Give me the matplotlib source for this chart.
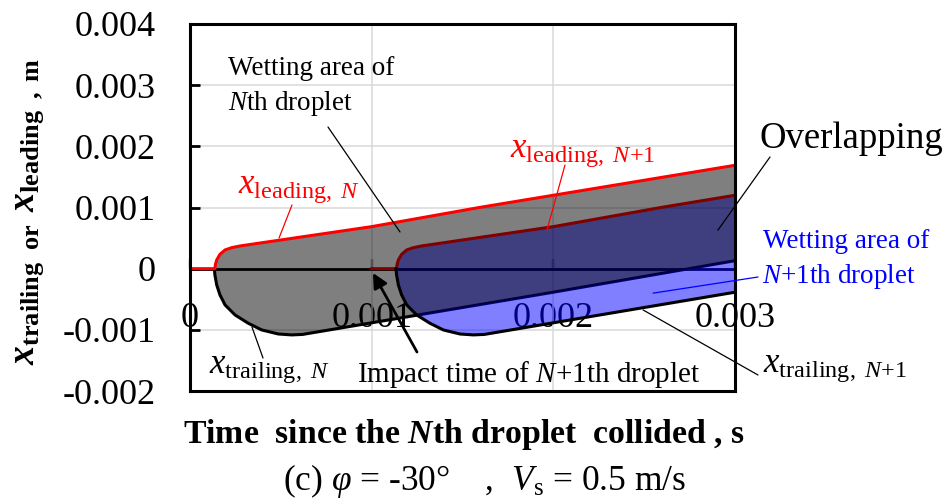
import numpy as np
import matplotlib
matplotlib.use("Agg")
import matplotlib.pyplot as plt

plt.rcParams.update({
    "font.family": "Liberation Serif",
    "mathtext.fontset": "custom",
    "mathtext.rm": "Liberation Serif",
    "mathtext.it": "Liberation Serif:italic",
    "mathtext.bf": "Liberation Serif:bold",
})
try:
    plt.rcParams["mathtext.bfit"] = "Liberation Serif:italic:bold"
except KeyError:
    pass

# ---------------- data (time in ms, position in mm) ----------------
t_lead_N = [0.0, 0.137, 0.140, 0.147, 0.165, 0.193, 0.229, 0.275, 0.688, 1.0, 1.6, 3.0]
x_lead_N = [0.0, 0.0, 0.07, 0.142, 0.235, 0.306, 0.343, 0.371, 0.551, 0.687, 1.004, 1.69]
t_trail_N = [0.134, 0.137, 0.147, 0.165, 0.193, 0.248, 0.321, 0.395, 0.486, 0.560, 0.62, 1.2, 2.0, 3.0]
x_trail_N = [0.0, -0.10, -0.266, -0.43, -0.593, -0.757, -0.893, -1.002, -1.068, -1.083, -1.075, -0.785, -0.385, 0.13]
t_lead_N1 = [1.0, 1.137, 1.140, 1.147, 1.165, 1.193, 1.229, 1.275, 1.688, 2.0, 2.6, 3.0]
x_lead_N1 = [0.0, 0.0, 0.07, 0.142, 0.235, 0.306, 0.343, 0.371, 0.551, 0.687, 1.004, 1.20]
t_trail_N1 = [1.134, 1.137, 1.147, 1.165, 1.193, 1.248, 1.321, 1.395, 1.486, 1.560, 1.62, 2.2, 3.0]
x_trail_N1 = [0.0, -0.10, -0.266, -0.43, -0.593, -0.757, -0.893, -1.002, -1.068, -1.083, -1.075, -0.785, -0.385]

x_ticks = [0.0, 0.001, 0.002, 0.003]
x_tick_labels = ["0", "0.001", "0.002", "0.003"]
y_ticks = [-0.002, -0.001, 0.0, 0.001, 0.002, 0.003, 0.004]
y_tick_labels = ["-0.002", "-0.001", "0", "0.001", "0.002", "0.003", "0.004"]

SCALE = 1e-3  # ms -> s, mm -> m
tLN, xLN = np.array(t_lead_N) * SCALE, np.array(x_lead_N) * SCALE
tTN, xTN = np.array(t_trail_N) * SCALE, np.array(x_trail_N) * SCALE
tLN1, xLN1 = np.array(t_lead_N1) * SCALE, np.array(x_lead_N1) * SCALE
tTN1, xTN1 = np.array(t_trail_N1) * SCALE, np.array(x_trail_N1) * SCALE

W, H = 953, 504
fig = plt.figure(figsize=(W / 100, H / 100), dpi=100)
ax = fig.add_axes([190 / W, (H - 391) / H, 545 / W, 367 / H])

ax.set_xlim(x_ticks[0], x_ticks[-1])
ax.set_ylim(y_ticks[0], y_ticks[-1])

# common grid for area fills
tg = np.linspace(x_ticks[0], x_ticks[-1], 3001)
leadN_g = np.interp(tg, tLN, xLN)
trailN_g = np.interp(tg, tTN, xTN, left=0.0)
leadN1_g = np.interp(tg, tLN1, xLN1, left=0.0)
trailN1_g = np.interp(tg, tTN1, xTN1, left=0.0)

# zero line and lines that lie under the areas
ax.axhline(0, color="black", lw=2.0, zorder=1.0)
ax.plot(tTN, xTN, color="black", lw=2.2, zorder=1.5, solid_capstyle="butt")

# N+1 wetting area (semi-transparent blue)
ax.fill_between(tg, trailN1_g, leadN1_g, where=tg >= tLN1[0], color="#0000FF",
                alpha=0.5, lw=0, zorder=2.0)
ax.plot(tLN1, xLN1, color="#FF0000", lw=2.2, zorder=2.5)
ax.plot(tTN1, xTN1, color="black", lw=2.2, zorder=2.5)

# N wetting area (semi-transparent black -> gray)
ax.fill_between(tg, trailN_g, leadN_g, color="black", alpha=0.5, lw=0, zorder=3.0)
ax.plot(tLN, xLN, color="#FF0000", lw=2.2, zorder=4.0)

# grid, spines, ticks
ax.set_axisbelow(True)
ax.set_xticks(x_ticks)
ax.set_yticks(y_ticks, labels=y_tick_labels)
ax.grid(True, color="#D9D9D9", lw=1.1)
ax.tick_params(axis="x", bottom=False, labelbottom=False)
ax.tick_params(axis="y", direction="in", length=7, width=2, pad=24.5, labelsize=26)
for sp in ax.spines.values():
    sp.set_linewidth(2.2)
    sp.set_zorder(6)

# x tick labels along the zero line
zero_pos = (0 - y_ticks[0]) / (y_ticks[-1] - y_ticks[0])
sec = ax.secondary_xaxis(zero_pos)
sec.set_xticks(x_ticks, labels=x_tick_labels)
sec.tick_params(direction="in", length=7, width=1.6, pad=24, labelsize=26)
sec.spines["bottom"].set_visible(False)
sec.spines["top"].set_visible(False)

# axis labels
ax.set_ylabel(r"$\mathbfit{x}_{\mathbf{trailing\ \ or\ \ }}\mathbfit{x}_{\mathbf{leading\ \ ,\ m}}$",
              fontsize=27)
ax.yaxis.set_label_coords((46 - 190) / 545, (391 - 212) / 367)

fig.text(183 / W, 1 - 443 / H, r"Time  since the $\mathbfit{N}$th droplet  collided , s",
         fontsize=24.3, fontweight="bold", ha="left", va="baseline")
fig.text(283 / W, 1 - 490 / H, r"(c) $\varphi$ = -30°    ,  $V_{\mathrm{s}}$ = 0.5 m/s",
         fontsize=25.5, ha="left", va="baseline")


def fxy(px, py):
    return (px / W, 1 - py / H)


def leader(target, start, color="black", lw=0.9):
    ax.annotate("", xy=target, xycoords="data", xytext=fxy(*start),
                textcoords="figure fraction", annotation_clip=False,
                arrowprops=dict(arrowstyle="-", color=color, lw=lw,
                                shrinkA=0, shrinkB=0), zorder=7)


# annotations
fig.text(*fxy(228, 75), "Wetting area of", fontsize=19.5, ha="left", va="baseline")
fig.text(*fxy(228, 110), r"$N$th droplet", fontsize=19.5, ha="left", va="baseline")
leader((0.001156, 0.00060), (328, 127))

fig.text(*fxy(238, 193), r"$x_{\mathrm{leading},\ N}$", fontsize=25, color="#FF0000",
         ha="left", va="baseline")
leader((0.00049, 0.00050), (292, 205), color="#FF0000")

fig.text(*fxy(510, 157), r"$x_{\mathrm{leading},\ N\mathrm{+1}}$", fontsize=25, color="#FF0000",
         ha="left", va="baseline")
leader((0.001965, 0.00063), (565, 165), color="#FF0000")

fig.text(*fxy(760, 148), "Overlapping", fontsize=26.5, ha="left", va="baseline")
leader((0.002906, 0.00063), (770, 157))

fig.text(*fxy(763, 248), "Wetting area of", fontsize=19.5, color="#0000FF",
         ha="left", va="baseline")
fig.text(*fxy(762, 283), r"$N$+1th droplet", fontsize=19.5, color="#0000FF",
         ha="left", va="baseline")
leader((0.002549, -0.00040), (758, 277), color="#0000FF")

fig.text(*fxy(209, 373), r"$x_{\mathrm{trailing},\ N}$", fontsize=25, ha="left", va="baseline")
leader((0.000341, -0.000953), (263, 358))

fig.text(*fxy(357, 382), r"Impact time of $N$+1th droplet", fontsize=21, ha="left", va="baseline")
ax.annotate("", xy=(0.001007, -0.00007), xycoords="data", xytext=fxy(417, 352),
            textcoords="figure fraction", annotation_clip=False,
            arrowprops=dict(arrowstyle="-|>", color="black", lw=2,
                            mutation_scale=22, shrinkA=0, shrinkB=0), zorder=7)

fig.text(*fxy(763, 372), r"$x_{\mathrm{trailing},\ N\mathrm{+1}}$", fontsize=25, ha="left", va="baseline")
leader((0.002494, -0.000675), (758, 375))

fig.savefig("out.png", dpi=100)
